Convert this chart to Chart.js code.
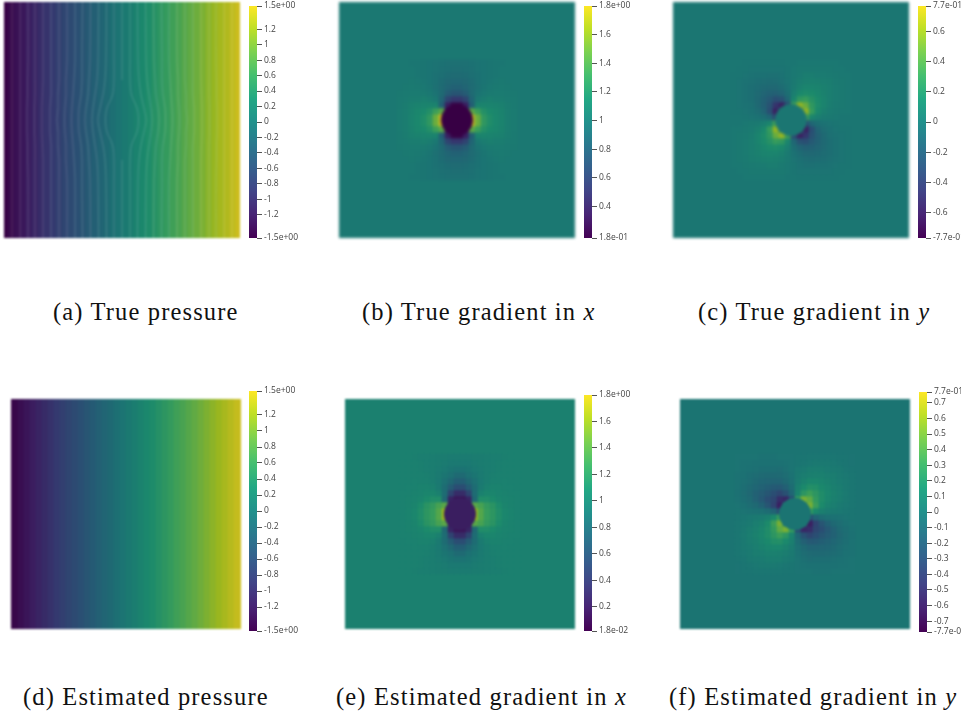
<!DOCTYPE html>
<html>
<head>
<meta charset="utf-8">
<title>Pressure and gradient fields</title>
<script src="https://cdn.jsdelivr.net/npm/chart.js@4/dist/chart.umd.min.js"></script>
<style>
html, body { margin: 0; padding: 0; background: #fff; }
body { position: relative; width: 961px; height: 719px; overflow: hidden; }
canvas { position: absolute; }
.cap { position: absolute; font: 24.5px "Liberation Serif", serif; letter-spacing: 1.15px; color: #111; white-space: nowrap; }
</style>
</head>
<body>
<script>
// column centres of the pressure fields and of the 20x20 patch round the cylinder
const columnX = [-117,-111,-105,-99,-93,-87,-81,-75,-69,-63,-57,-51,-45,-39,-33,-27,-21,-15,-9,-3,3,9,15,21,27,33,39,45,51,57,63,69,75,81,87,93,99,105,111,117];
const patchX = [-57,-51,-45,-39,-33,-27,-21,-15,-9,-3,3,9,15,21,27,33,39,45,51,57];
const patchY = [57,51,45,39,33,27,21,15,9,3,-3,-9,-15,-21,-27,-33,-39,-45,-51,-57];

// pressure, one value per column
const truePressure = [-1.49,-1.41,-1.33,-1.26,-1.18,-1.11,-1.03,-.95,-.88,-.8,-.72,-.65,-.57,-.5,-.42,-.34,-.27,-.19,-.11,-.04,.04,.11,.19,.27,.34,.42,.5,.57,.65,.72,.8,.88,.95,1.03,1.11,1.18,1.26,1.33,1.41,1.49];
const estPressure = [-1.5,-1.44,-1.36,-1.28,-1.2,-1.12,-1.04,-.96,-.88,-.8,-.72,-.65,-.57,-.49,-.41,-.33,-.26,-.19,-.11,-.04,.04,.11,.19,.26,.33,.41,.49,.57,.65,.72,.8,.88,.96,1.04,1.12,1.2,1.28,1.36,1.44,1.5];

// contour lines of the true pressure: x of each line at these heights
const contourY = [118,60,40,25,12,0,-12,-25,-40,-60,-118];
const contourX = [
  [-110,-110,-110,-110,-110,-110,-110,-110,-110,-110,-110],
  [-102,-102,-102,-102,-102,-102,-102,-102,-102,-102,-102],
  [-94,-94,-94.5,-94.5,-95,-95,-95,-94.5,-94.5,-94,-94],
  [-87,-87,-87,-87,-87.5,-87.5,-87.5,-87,-87,-87,-87],
  [-79,-79,-79,-79.5,-80,-80,-80,-79.5,-79,-79,-79],
  [-71,-71,-71,-71,-72,-72,-72,-71,-71,-71,-71],
  [-63,-63,-63,-64,-64,-65,-64,-64,-63,-63,-63],
  [-55,-55,-56,-56,-57,-57.5,-57,-56,-56,-55,-55],
  [-47,-47,-48,-49,-50,-50.5,-50,-49,-48,-47,-47],
  [-39.5,-40,-40,-41,-43,-43.5,-43,-41,-40,-40,-39.5],
  [-31.5,-32,-33,-34,-36,-37,-36,-34,-33,-32,-31.5],
  [-23.5,-24,-25,-27,-29,-30,-29,-27,-25,-24,-23.5],
  [-15.5,-16,-17,-19,-22,-24,-22,-19,-17,-16,-15.5],
  [-8,-8,-8,-9.5,-15,-16.5,-15,-9.5,-8,-8,-8],
  [0,0,0,null,null,null,null,null,0,0,0],
  [8,8,8,9.5,15,16.5,15,9.5,8,8,8],
  [15.5,16,17,19,22,24,22,19,17,16,15.5],
  [23.5,24,25,27,29,30,29,27,25,24,23.5],
  [31.5,32,33,34,36,37,36,34,33,32,31.5],
  [39.5,40,40,41,43,43.5,43,41,40,40,39.5],
  [47,47,48,49,50,50.5,50,49,48,47,47],
  [55,55,56,56,57,57.5,57,56,56,55,55],
  [63,63,63,64,64,65,64,64,63,63,63],
  [71,71,71,71,72,72,72,71,71,71,71],
  [79,79,79,79.5,80,80,80,79.5,79,79,79],
  [87,87,87,87,87.5,87.5,87.5,87,87,87,87],
  [94,94,94.5,94.5,95,95,95,94.5,94.5,94,94],
  [102,102,102,102,102,102,102,102,102,102,102],
  [110,110,110,110,110,110,110,110,110,110,110]
];

// true gradient in x round the cylinder, top row first
const trueGradX = [
  [1,1,.99,.99,.98,.97,.96,.95,.94,.94,.94,.94,.95,.96,.97,.98,.99,.99,1,1],
  [1,1,1,.99,.98,.97,.96,.94,.93,.92,.92,.93,.94,.96,.97,.98,.99,1,1,1],
  [1,1,1,.99,.98,.97,.95,.93,.91,.9,.9,.91,.93,.95,.97,.98,.99,1,1,1],
  [1,1,1.01,1,.99,.97,.95,.91,.88,.87,.87,.88,.91,.95,.97,.99,1,1.01,1,1],
  [1,1.01,1.02,1.01,1,.98,.94,.9,.85,.82,.82,.85,.9,.94,.98,1,1.01,1.02,1.01,1],
  [1.01,1.02,1.03,1.03,1.02,1,.96,.89,.78,.73,.73,.78,.89,.96,1,1.02,1.03,1.03,1.02,1.01],
  [1.02,1.03,1.05,1.05,1.06,1.04,1,.85,.6,.5,.5,.6,.85,1,1.04,1.06,1.05,1.05,1.03,1.02],
  [1.02,1.04,1.07,1.09,1.1,1.11,1.1,.8,.35,.2,.2,.35,.8,1.1,1.11,1.1,1.09,1.07,1.04,1.02],
  [1.03,1.05,1.09,1.12,1.15,1.2,1.33,1.45,.2,.2,.2,.2,1.45,1.33,1.2,1.15,1.12,1.09,1.05,1.03],
  [1.03,1.05,1.1,1.13,1.18,1.27,1.5,1.8,.2,.2,.2,.2,1.8,1.5,1.27,1.18,1.13,1.1,1.05,1.03],
  [1.03,1.05,1.1,1.13,1.18,1.27,1.5,1.8,.2,.2,.2,.2,1.8,1.5,1.27,1.18,1.13,1.1,1.05,1.03],
  [1.03,1.05,1.09,1.12,1.15,1.2,1.33,1.45,.2,.2,.2,.2,1.45,1.33,1.2,1.15,1.12,1.09,1.05,1.03],
  [1.02,1.04,1.07,1.09,1.1,1.11,1.1,.8,.35,.2,.2,.35,.8,1.1,1.11,1.1,1.09,1.07,1.04,1.02],
  [1.02,1.03,1.05,1.05,1.06,1.04,1,.85,.6,.5,.5,.6,.85,1,1.04,1.06,1.05,1.05,1.03,1.02],
  [1.01,1.02,1.03,1.03,1.02,1,.96,.89,.78,.73,.73,.78,.89,.96,1,1.02,1.03,1.03,1.02,1.01],
  [1,1.01,1.02,1.01,1,.98,.94,.9,.85,.82,.82,.85,.9,.94,.98,1,1.01,1.02,1.01,1],
  [1,1,1.01,1,.99,.97,.95,.91,.88,.87,.87,.88,.91,.95,.97,.99,1,1.01,1,1],
  [1,1,1,.99,.98,.97,.95,.93,.91,.9,.9,.91,.93,.95,.97,.98,.99,1,1,1],
  [1,1,1,.99,.98,.97,.96,.94,.93,.92,.92,.93,.94,.96,.97,.98,.99,1,1,1],
  [1,1,.99,.99,.98,.97,.96,.95,.94,.94,.94,.94,.95,.96,.97,.98,.99,.99,1,1]
];

// estimated gradient in x, blockier with longer streaks
const estGradX = [
  [1,1,.99,.98,.98,.97,.96,.96,.95,.95,.95,.95,.96,.96,.97,.98,.98,.99,1,1],
  [1,1,1,.99,.98,.97,.96,.95,.93,.93,.93,.93,.95,.96,.97,.98,.99,1,1,1],
  [1,1,1,.99,.98,.97,.95,.93,.9,.88,.88,.9,.93,.95,.97,.98,.99,1,1,1],
  [1,1,1,1,.99,.97,.94,.9,.86,.8,.8,.86,.9,.94,.97,.99,1,1,1,1],
  [1,1,1.01,1,1,.97,.93,.86,.78,.7,.7,.78,.86,.93,.97,1,1,1.01,1,1],
  [1,1.01,1.01,1.02,1.02,1,.94,.82,.68,.55,.55,.68,.82,.94,1,1.02,1.02,1.01,1.01,1],
  [1.01,1.01,1.02,1.03,1.05,1.05,1,.82,.48,.3,.3,.48,.82,1,1.05,1.05,1.03,1.02,1.01,1.01],
  [1.01,1.02,1.03,1.05,1.09,1.12,1.12,.78,.25,.15,.15,.25,.78,1.12,1.12,1.09,1.05,1.03,1.02,1.01],
  [1.01,1.02,1.04,1.1,1.18,1.24,1.33,1.4,.2,.2,.2,.2,1.4,1.33,1.24,1.18,1.1,1.04,1.02,1.01],
  [1.01,1.03,1.06,1.12,1.2,1.26,1.38,1.62,.2,.2,.2,.2,1.62,1.38,1.26,1.2,1.12,1.06,1.03,1.01],
  [1.01,1.03,1.06,1.12,1.2,1.26,1.38,1.62,.2,.2,.2,.2,1.62,1.38,1.26,1.2,1.12,1.06,1.03,1.01],
  [1.01,1.02,1.04,1.1,1.18,1.24,1.33,1.4,.2,.2,.2,.2,1.4,1.33,1.24,1.18,1.1,1.04,1.02,1.01],
  [1.01,1.02,1.03,1.05,1.09,1.12,1.12,.78,.25,.15,.15,.25,.78,1.12,1.12,1.09,1.05,1.03,1.02,1.01],
  [1.01,1.01,1.02,1.03,1.05,1.05,1,.82,.48,.3,.3,.48,.82,1,1.05,1.05,1.03,1.02,1.01,1.01],
  [1,1.01,1.01,1.02,1.02,1,.94,.82,.68,.55,.55,.68,.82,.94,1,1.02,1.02,1.01,1.01,1],
  [1,1,1.01,1,1,.97,.93,.86,.78,.7,.7,.78,.86,.93,.97,1,1,1.01,1,1],
  [1,1,1,1,.99,.97,.94,.9,.86,.8,.8,.86,.9,.94,.97,.99,1,1,1,1],
  [1,1,1,.99,.98,.97,.95,.93,.9,.88,.88,.9,.93,.95,.97,.98,.99,1,1,1],
  [1,1,1,.99,.98,.97,.96,.95,.93,.93,.93,.93,.95,.96,.97,.98,.99,1,1,1],
  [1,1,.99,.98,.98,.97,.96,.96,.95,.95,.95,.95,.96,.96,.97,.98,.98,.99,1,1]
];

// true gradient in y
const trueGradY = [
  [0,0,-.01,-.01,-.01,-.01,-.01,-.01,-.01,0,0,.01,.01,.01,.01,.01,.01,.01,0,0],
  [0,-.01,-.01,-.02,-.02,-.02,-.02,-.02,-.02,-.01,.01,.02,.02,.02,.02,.02,.02,.01,.01,0],
  [-.01,-.01,-.02,-.03,-.04,-.04,-.05,-.05,-.03,-.01,.01,.03,.05,.05,.04,.04,.03,.02,.01,.01],
  [-.01,-.02,-.03,-.05,-.06,-.07,-.08,-.07,-.05,-.02,.02,.05,.07,.08,.07,.06,.05,.03,.02,.01],
  [-.01,-.02,-.04,-.06,-.08,-.1,-.11,-.11,-.08,-.03,.03,.08,.11,.11,.1,.08,.06,.04,.02,.01],
  [-.01,-.02,-.04,-.06,-.09,-.13,-.16,-.17,-.14,-.06,.06,.14,.17,.16,.13,.09,.06,.04,.02,.01],
  [-.01,-.02,-.04,-.06,-.1,-.16,-.22,-.3,-.27,-.12,.12,.27,.3,.22,.16,.1,.06,.04,.02,.01],
  [-.01,-.02,-.03,-.05,-.1,-.17,-.27,-.48,-.6,-.35,.35,.6,.48,.27,.17,.1,.05,.03,.02,.01],
  [-.01,-.01,-.02,-.04,-.07,-.14,-.3,-.6,0,0,0,0,.6,.3,.14,.07,.04,.02,.01,.01],
  [0,0,-.01,-.02,-.03,-.06,-.12,-.35,0,0,0,0,.35,.12,.06,.03,.02,.01,0,0],
  [0,0,.01,.02,.03,.06,.12,.35,0,0,0,0,-.35,-.12,-.06,-.03,-.02,-.01,0,0],
  [.01,.01,.02,.04,.07,.14,.3,.6,0,0,0,0,-.6,-.3,-.14,-.07,-.04,-.02,-.01,-.01],
  [.01,.02,.03,.05,.1,.17,.27,.48,.6,.35,-.35,-.6,-.48,-.27,-.17,-.1,-.05,-.03,-.02,-.01],
  [.01,.02,.04,.06,.1,.16,.22,.3,.27,.12,-.12,-.27,-.3,-.22,-.16,-.1,-.06,-.04,-.02,-.01],
  [.01,.02,.04,.06,.09,.13,.16,.17,.14,.06,-.06,-.14,-.17,-.16,-.13,-.09,-.06,-.04,-.02,-.01],
  [.01,.02,.04,.06,.08,.1,.11,.11,.08,.03,-.03,-.08,-.11,-.11,-.1,-.08,-.06,-.04,-.02,-.01],
  [.01,.02,.03,.05,.06,.07,.08,.07,.05,.02,-.02,-.05,-.07,-.08,-.07,-.06,-.05,-.03,-.02,-.01],
  [.01,.01,.02,.03,.04,.04,.05,.05,.03,.01,-.01,-.03,-.05,-.05,-.04,-.04,-.03,-.02,-.01,-.01],
  [0,.01,.01,.02,.02,.02,.02,.02,.02,.01,-.01,-.02,-.02,-.02,-.02,-.02,-.02,-.01,-.01,0],
  [0,0,.01,.01,.01,.01,.01,.01,.01,0,0,-.01,-.01,-.01,-.01,-.01,-.01,-.01,0,0]
];

// estimated gradient in y
const estGradY = [
  [-.02,-.02,-.02,-.02,-.03,-.03,-.03,-.02,-.02,-.02,-.01,-.01,0,0,0,0,0,-.01,-.01,-.02],
  [-.02,-.03,-.03,-.04,-.04,-.04,-.04,-.04,-.03,-.02,-.01,0,.01,.02,.02,.02,.01,0,-.01,-.02],
  [-.02,-.03,-.04,-.05,-.06,-.06,-.06,-.07,-.05,-.02,.01,.03,.05,.05,.05,.04,.03,.02,0,-.01],
  [-.03,-.04,-.06,-.08,-.09,-.1,-.1,-.09,-.07,-.03,.02,.05,.07,.08,.08,.06,.05,.03,.01,0],
  [-.03,-.05,-.07,-.1,-.12,-.13,-.14,-.14,-.1,-.05,.04,.09,.13,.13,.11,.09,.06,.04,.02,0],
  [-.03,-.06,-.09,-.12,-.15,-.18,-.21,-.22,-.17,-.08,.07,.15,.2,.19,.14,.11,.07,.05,.02,0],
  [-.04,-.07,-.11,-.16,-.2,-.24,-.3,-.36,-.28,-.12,.1,.25,.32,.25,.18,.13,.09,.06,.03,0],
  [-.03,-.06,-.09,-.15,-.22,-.3,-.36,-.52,-.55,-.32,.3,.52,.45,.28,.18,.12,.08,.05,.02,0],
  [-.02,-.04,-.07,-.1,-.16,-.25,-.38,-.6,0,0,0,0,.52,.32,.16,.09,.06,.03,.01,0],
  [-.01,-.02,-.03,-.04,-.05,-.08,-.14,-.3,0,0,0,0,.3,.14,.07,.04,.02,.01,0,-.01],
  [-.01,0,.01,.02,.04,.07,.14,.3,0,0,0,0,-.3,-.14,-.08,-.05,-.04,-.03,-.02,-.01],
  [0,.01,.03,.06,.09,.16,.32,.52,0,0,0,0,-.6,-.38,-.25,-.16,-.1,-.07,-.04,-.02],
  [0,.02,.05,.08,.12,.18,.28,.45,.52,.3,-.32,-.55,-.52,-.36,-.3,-.22,-.15,-.09,-.06,-.03],
  [0,.03,.06,.09,.13,.18,.25,.32,.25,.1,-.12,-.28,-.36,-.3,-.24,-.2,-.16,-.11,-.07,-.04],
  [0,.02,.05,.07,.11,.14,.19,.2,.15,.07,-.08,-.17,-.22,-.21,-.18,-.15,-.12,-.09,-.06,-.03],
  [0,.02,.04,.06,.09,.11,.13,.13,.09,.04,-.05,-.1,-.14,-.14,-.13,-.12,-.1,-.07,-.05,-.03],
  [0,.01,.03,.05,.06,.08,.08,.07,.05,.02,-.03,-.07,-.09,-.1,-.1,-.09,-.08,-.06,-.04,-.03],
  [-.01,0,.02,.03,.04,.05,.05,.05,.03,.01,-.02,-.05,-.07,-.06,-.06,-.06,-.05,-.04,-.03,-.02],
  [-.02,-.01,0,.01,.02,.02,.02,.01,0,-.01,-.02,-.03,-.04,-.04,-.04,-.04,-.04,-.03,-.03,-.02],
  [-.02,-.01,-.01,0,0,0,0,0,-.01,-.01,-.02,-.02,-.02,-.03,-.03,-.03,-.02,-.02,-.02,-.02]
];

// colour bar ticks
const pressureTicks = [1.5,1.2,1,.8,.6,.4,.2,0,-.2,-.4,-.6,-.8,-1,-1.2,-1.5];
const pressureLabels = ['1.5e+00','1.2','1','0.8','0.6','0.4','0.2','0','-0.2','-0.4','-0.6','-0.8','-1','-1.2','-1.5e+00'];
const trueGradXTicks = [1.8,1.6,1.4,1.2,1,.8,.6,.4,.18];
const trueGradXLabels = ['1.8e+00','1.6','1.4','1.2','1','0.8','0.6','0.4','1.8e-01'];
const trueGradYTicks = [.77,.6,.4,.2,0,-.2,-.4,-.6,-.77];
const trueGradYLabels = ['7.7e-01','0.6','0.4','0.2','0','-0.2','-0.4','-0.6','-7.7e-01'];
const estGradXTicks = [1.8,1.6,1.4,1.2,1,.8,.6,.4,.2,.018];
const estGradXLabels = ['1.8e+00','1.6','1.4','1.2','1','0.8','0.6','0.4','0.2','1.8e-02'];
const estGradYTicks = [.77,.7,.6,.5,.4,.3,.2,.1,0,-.1,-.2,-.3,-.4,-.5,-.6,-.7,-.77];
const estGradYLabels = ['7.7e-01','0.7','0.6','0.5','0.4','0.3','0.2','0.1','0','-0.1','-0.2','-0.3','-0.4','-0.5','-0.6','-0.7','-7.7e-01'];

const viridis = [[68,1,84],[72,36,117],[65,68,135],[53,95,141],[42,120,142],[33,145,140],[34,168,132],[68,191,112],[122,209,81],[189,223,38],[253,231,37]];
const LIT = 0.82; // the fields are shaded a little darker than the colour bars

function fieldColor(v, lo, hi) {
    const t = Math.min(1, Math.max(0, (v - lo) / (hi - lo))) * (viridis.length - 1);
    const i = Math.min(viridis.length - 2, Math.floor(t));
    const c = viridis[i].map((a, k) => (a + (viridis[i + 1][k] - a) * (t - i)) * LIT);
    return `rgb(${c[0] | 0},${c[1] | 0},${c[2] | 0})`;
}

function addCanvas(left, top, width, height, blur) {
    const cv = document.createElement('canvas');
    cv.width = width;
    cv.height = height;
    cv.style.left = left + 'px';
    cv.style.top = top + 'px';
    cv.style.width = width + 'px';
    cv.style.height = height + 'px';
    if (blur) cv.style.filter = `blur(${blur}px)`;
    document.body.appendChild(cv);
    return cv;
}

function cellRows(rows, xs, ys, cellH, lo, hi) {
    return rows.map((row, r) => ({
        data: row.map((v, c) => ({ x: xs[c], y: [ys[r] - cellH / 2, ys[r] + cellH / 2] })),
        backgroundColor: row.map(v => fieldColor(v, lo, hi)),
        barPercentage: 1,
        categoryPercentage: 1,
        grouped: false,
        borderWidth: 0,
        order: 2
    }));
}

function drawField(p) {
    const half = p.size / 2;
    const datasets = [{
        xAxisID: 'xFull',
        data: [{ x: 0, y: [-half, half] }],
        backgroundColor: fieldColor(p.base, p.lo, p.hi),
        barThickness: p.size,
        grouped: false,
        borderWidth: 0,
        order: 3
    }].concat(cellRows(p.rows, p.xs, p.ys, p.cellH, p.lo, p.hi));
    if (p.circle !== undefined) {
        datasets.push({
            type: 'scatter',
            data: [{ x: 0, y: 0 }],
            pointRadius: 16,
            pointBorderWidth: 0,
            pointBackgroundColor: fieldColor(p.circle, p.lo, p.hi),
            order: 0
        });
    }
    (p.contours || []).forEach(line => {
        datasets.push({
            type: 'scatter',
            showLine: true,
            data: line.map((x, i) => ({ x: x, y: contourY[i] })),
            pointRadius: 0,
            borderWidth: 1,
            borderColor: 'rgba(255,255,255,0.17)',
            tension: 0.35,
            order: 1
        });
    });
    new Chart(addCanvas(p.left, p.top, p.size, p.size, p.blur), {
        type: 'bar',
        data: { datasets: datasets },
        options: {
            responsive: false,
            animation: false,
            devicePixelRatio: 1,
            plugins: { legend: { display: false }, tooltip: { enabled: false } },
            layout: { padding: 0, autoPadding: false },
            scales: {
                x: { type: 'linear', display: false, min: -half, max: half, offset: false },
                xFull: { type: 'linear', display: false, min: -1, max: 1, offset: false },
                y: { type: 'linear', display: false, min: -half, max: half }
            }
        }
    });
}

function drawColorBar(b) {
    const width = 75, pad = 8, barW = 8;
    new Chart(addCanvas(b.left, b.top - pad, width, b.bottom - b.top + pad * 2), {
        type: 'bar',
        data: {
            labels: ['bar'],
            datasets: [{
                data: [[b.lo, b.hi]],
                barPercentage: 1,
                categoryPercentage: 1,
                borderWidth: 0,
                backgroundColor: c => {
                    const area = c.chart.chartArea;
                    if (!area) return '#21918c';
                    const g = c.chart.ctx.createLinearGradient(0, area.bottom, 0, area.top);
                    viridis.forEach((s, i) => g.addColorStop(i / (viridis.length - 1), `rgb(${s})`));
                    return g;
                }
            }]
        },
        options: {
            responsive: false,
            animation: false,
            devicePixelRatio: 1,
            plugins: { legend: { display: false }, tooltip: { enabled: false } },
            layout: { padding: { top: pad, bottom: pad } },
            scales: {
                x: { display: false },
                y: {
                    position: 'right',
                    min: b.lo,
                    max: b.hi,
                    border: { display: false },
                    grid: { drawOnChartArea: false, tickLength: 5, color: '#555' },
                    afterBuildTicks: axis => { axis.ticks = b.ticks.map(v => ({ value: v })); },
                    afterFit: axis => { axis.width = width - barW; },
                    ticks: {
                        autoSkip: false,
                        maxRotation: 0,
                        padding: 2,
                        color: '#444',
                        font: { family: '"Open Sans"', size: 8.5 },
                        callback: (v, i) => b.labels[i]
                    }
                }
            }
        }
    });
}

function addCaption(text, left, top) {
    const d = document.createElement('div');
    d.className = 'cap';
    d.style.left = left + 'px';
    d.style.top = top + 'px';
    d.innerHTML = text;
    document.body.appendChild(d);
}

drawField({ left: 4, top: 2, size: 236, rows: [truePressure], xs: columnX, ys: [0], cellH: 236, lo: -1.5, hi: 1.5, base: 0, contours: contourX, blur: 1.1 });
drawField({ left: 339, top: 2, size: 236, rows: trueGradX, xs: patchX, ys: patchY, cellH: 6, lo: 0.18, hi: 1.8, base: 1, circle: 0.18, blur: 1.7 });
drawField({ left: 673, top: 2, size: 236, rows: trueGradY, xs: patchX, ys: patchY, cellH: 6, lo: -0.77, hi: 0.77, base: 0, circle: 0, blur: 1.7 });
drawField({ left: 11, top: 399, size: 230, rows: [estPressure], xs: columnX, ys: [0], cellH: 230, lo: -1.5, hi: 1.5, base: 0, blur: 1.2 });
drawField({ left: 345, top: 399, size: 230, rows: estGradX, xs: patchX, ys: patchY, cellH: 6, lo: 0.018, hi: 1.8, base: 1, circle: 0.2, blur: 0.9 });
drawField({ left: 680, top: 399, size: 230, rows: estGradY, xs: patchX, ys: patchY, cellH: 6, lo: -0.77, hi: 0.77, base: -0.015, circle: -0.015, blur: 0.9 });

drawColorBar({ left: 249, top: 6, bottom: 238, lo: -1.5, hi: 1.5, ticks: pressureTicks, labels: pressureLabels });
drawColorBar({ left: 584, top: 6, bottom: 238, lo: 0.18, hi: 1.8, ticks: trueGradXTicks, labels: trueGradXLabels });
drawColorBar({ left: 918, top: 6, bottom: 238, lo: -0.77, hi: 0.77, ticks: trueGradYTicks, labels: trueGradYLabels });
drawColorBar({ left: 249, top: 391, bottom: 631, lo: -1.5, hi: 1.5, ticks: pressureTicks, labels: pressureLabels });
drawColorBar({ left: 584, top: 395, bottom: 631, lo: 0.018, hi: 1.8, ticks: estGradXTicks, labels: estGradXLabels });
drawColorBar({ left: 919, top: 392, bottom: 632, lo: -0.77, hi: 0.77, ticks: estGradYTicks, labels: estGradYLabels });

addCaption('(a) True pressure', 53, 298);
addCaption('(b) True gradient in <i>x</i>', 362, 298);
addCaption('(c) True gradient in <i>y</i>', 698, 298);
addCaption('(d) Estimated pressure', 23, 683);
addCaption('(e) Estimated gradient in <i>x</i>', 336, 683);
addCaption('(f) Estimated gradient in <i>y</i>', 669, 683);
</script>
</body>
</html>
